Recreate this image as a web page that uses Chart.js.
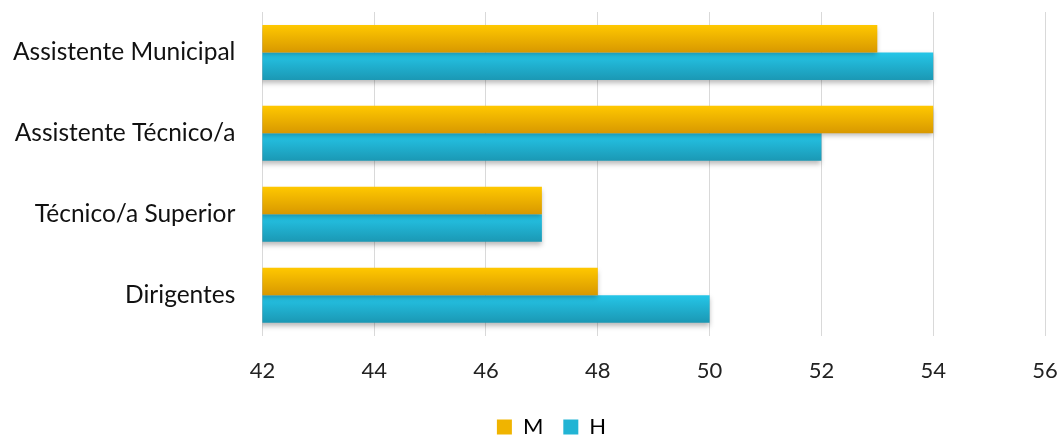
<!DOCTYPE html>
<html>
<head>
<meta charset="utf-8">
<script src="https://cdn.jsdelivr.net/npm/chart.js@4"></script>
<style>
  html, body { margin: 0; padding: 0; background: #fff; }
  #wrap { width: 1060px; height: 436px; }
</style>
</head>
<body>
<div id="wrap"><canvas id="chart"></canvas></div>
<script>
// --- Données ---
const categories = ['Assistente Municipal', 'Assistente Técnico/a', 'Técnico/a Superior', 'Dirigentes'];
const valuesM = [53, 54, 47, 48];
const valuesH = [54, 52, 47, 50];
const xMin = 42, xMax = 56, xStep = 2;

// couleurs (haut -> bas du dégradé)
const gradM = ['#ffc800', '#d89800'];
const gradH = ['#25c6e8', '#1b98b4'];

// dégradé vertical par barre + ombre portée
const barStylePlugin = {
  id: 'barStyle',
  afterLayout(chart) {
    // légende légèrement décalée à droite, comme dans l'original
    chart.legend.left += 23;
    chart.legend.right += 23;
  },
  beforeDatasetDraw(chart, args) {
    const ctx = chart.ctx;
    const cols = args.index === 0 ? gradM : gradH;
    args.meta.data.forEach(bar => {
      const top = bar.y - bar.height / 2;
      const g = ctx.createLinearGradient(0, top, 0, top + bar.height);
      g.addColorStop(0, cols[0]);
      g.addColorStop(1, cols[1]);
      bar.options.backgroundColor = g;
    });
    ctx.save();
    ctx.shadowColor = 'rgba(0,0,0,0.28)';
    ctx.shadowBlur = 5;
    ctx.shadowOffsetY = 3;
  },
  afterDatasetDraw(chart) {
    chart.ctx.restore();
  }
};

const tickFont = { family: 'Lato, "Open Sans", sans-serif', size: 22 };
const catFont = { family: 'Lato, "Open Sans", sans-serif', size: 24.5 };

new Chart(document.getElementById('chart'), {
  type: 'bar',
  data: {
    labels: categories,
    datasets: [
      // fonction => options non partagées entre barres (dégradé par barre)
      { label: 'M', data: valuesM, backgroundColor: () => gradM[0], borderWidth: 0 },
      { label: 'H', data: valuesH, backgroundColor: () => gradH[0], borderWidth: 0 }
    ]
  },
  options: {
    indexAxis: 'y',
    responsive: true,
    maintainAspectRatio: false,
    animation: false,
    categoryPercentage: 0.68,
    barPercentage: 1,
    layout: { padding: { top: 12, right: 15, left: 12, bottom: -12 } },
    scales: {
      x: {
        min: xMin,
        max: xMax,
        ticks: { stepSize: xStep, color: '#222', font: tickFont, padding: 22 },
        grid: { color: '#d9d9d9', drawTicks: false },
        border: { display: false },
        // le padding des ticks gonfle les marges : on le retire
        afterFit(scale) { scale.paddingLeft = 0; scale.paddingRight = 12; scale.height -= 10; }
      },
      y: {
        ticks: { color: '#111', font: catFont, padding: 27 },
        grid: { display: false, drawTicks: false },
        border: { display: false },
        afterFit(scale) { scale.paddingTop = 0; scale.paddingBottom = 0; scale.width -= 26; }
      }
    },
    plugins: {
      legend: {
        position: 'bottom',
        labels: { color: '#222', font: tickFont, boxWidth: 15, boxHeight: 15, padding: 20,
          generateLabels(chart) {
            return chart.data.datasets.map((d, i) => ({
              text: d.label,
              fillStyle: i === 0 ? '#f0b400' : '#22b4d4',
              strokeStyle: 'transparent',
              lineWidth: 0,
              datasetIndex: i
            }));
          }
        }
      },
      tooltip: { enabled: false }
    }
  },
  plugins: [barStylePlugin]
});
</script>
</body>
</html>
